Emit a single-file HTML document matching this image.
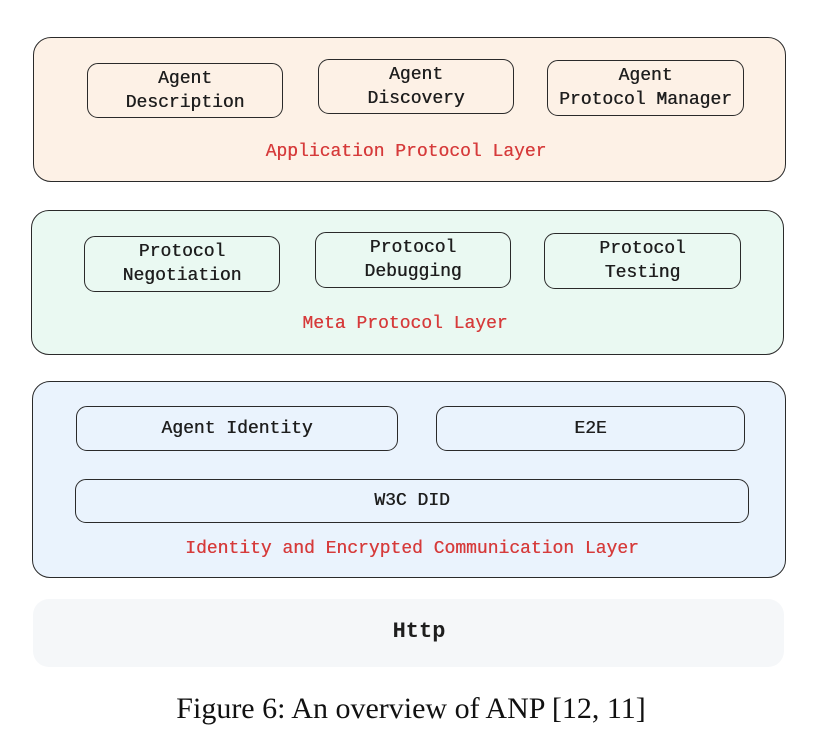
<!DOCTYPE html>
<html><head><style>
body{margin:0;width:822px;height:750px;background:#fff;position:relative;overflow:hidden;font-family:"Liberation Mono",monospace;}
.l{position:absolute;border:1.8px solid #2a2a2a;border-radius:18px;box-sizing:border-box;}
.b{position:absolute;border:1.8px solid #2a2a2a;border-radius:11px;box-sizing:border-box;display:flex;align-items:center;justify-content:center;text-align:center;font-size:18px;line-height:24px;color:#1e1e1e;text-shadow:0.4px 0 0 #1e1e1e;}
.t{position:absolute;left:0;width:822px;text-align:center;font-size:18px;color:#d63b3b;text-shadow:0.3px 0 0 #d63b3b;}
</style></head><body>
<div class="l" style="left:33px;top:37px;width:753px;height:145px;background:#fdf1e6"></div>
<div class="b" style="left:87px;top:63px;width:196px;height:55px">Agent<br>Description</div>
<div class="b" style="left:318px;top:59px;width:196px;height:55px">Agent<br>Discovery</div>
<div class="b" style="left:547px;top:60px;width:197px;height:56px">Agent<br>Protocol Manager</div>
<div class="t" style="top:142px;left:0;width:812px">Application Protocol Layer</div>

<div class="l" style="left:31px;top:210px;width:753px;height:145px;background:#eaf9f2"></div>
<div class="b" style="left:84px;top:236px;width:196px;height:56px">Protocol<br>Negotiation</div>
<div class="b" style="left:315px;top:232px;width:196px;height:56px">Protocol<br>Debugging</div>
<div class="b" style="left:544px;top:233px;width:197px;height:56px">Protocol<br>Testing</div>
<div class="t" style="top:314px;left:0;width:810px">Meta Protocol Layer</div>

<div class="l" style="left:32px;top:381px;width:754px;height:197px;background:#eaf3fd"></div>
<div class="b" style="left:76px;top:406px;width:322px;height:45px">Agent Identity</div>
<div class="b" style="left:436px;top:406px;width:309px;height:45px">E2E</div>
<div class="b" style="left:75px;top:479px;width:674px;height:44px">W3C DID</div>
<div class="t" style="top:539px;left:0;width:824px">Identity and Encrypted Communication Layer</div>

<div style="position:absolute;left:33px;top:599px;width:751px;height:68px;background:#f5f7f9;border-radius:16px"></div>
<div style="position:absolute;left:0;width:838px;top:619px;text-align:center;font-size:22px;font-weight:bold;color:#1e1e1e">Http</div>

<div style="position:absolute;left:0;width:822px;top:692px;text-align:center;font-family:'Liberation Serif',serif;font-size:30px;color:#111">Figure 6: An overview of ANP [12, 11]</div>
</body></html>
